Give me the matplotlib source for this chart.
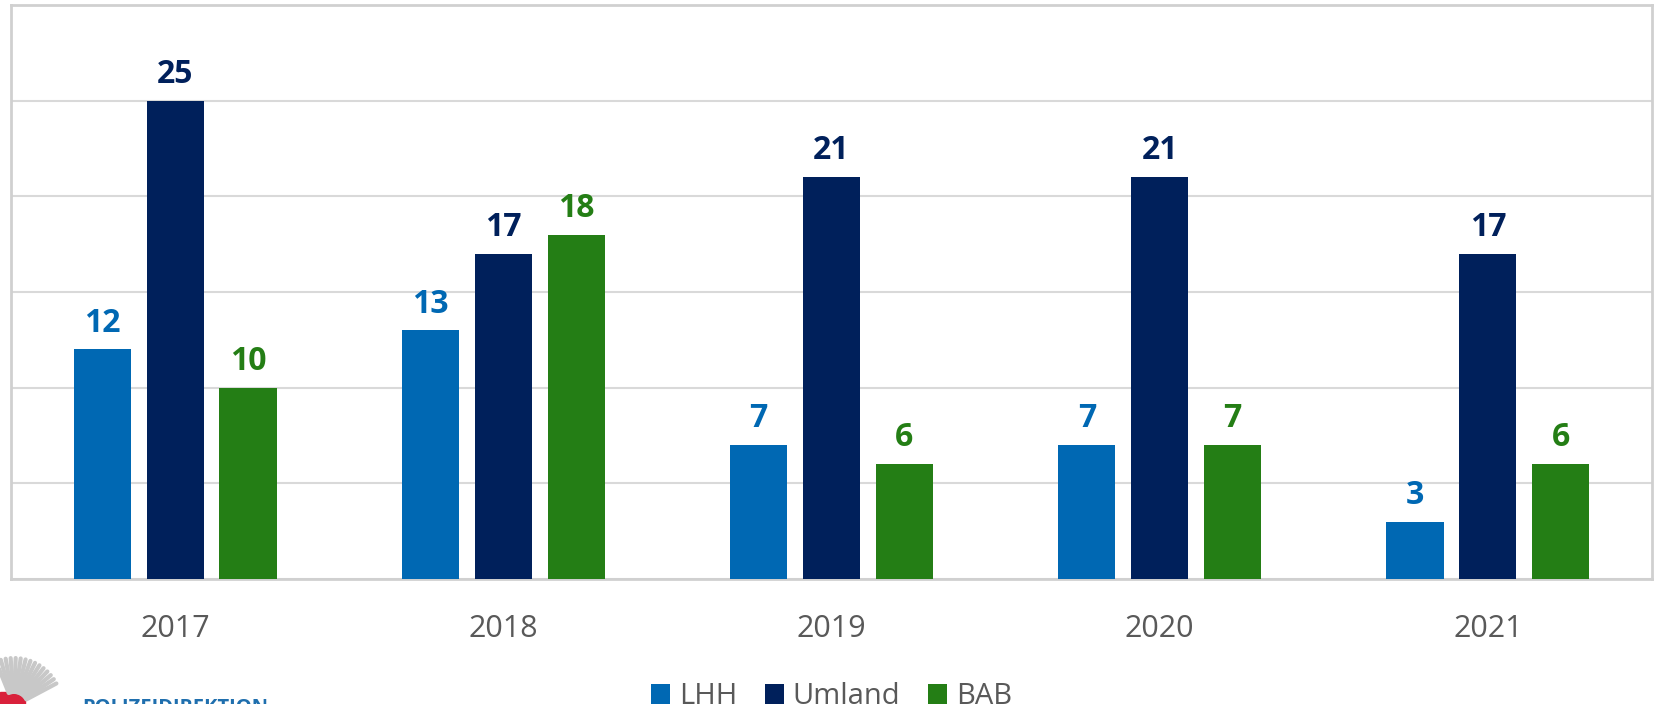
import numpy as np
import matplotlib
matplotlib.use('Agg')
import matplotlib.pyplot as plt
from matplotlib.patches import Rectangle

years = ['2017', '2018', '2019', '2020', '2021']
lhh = [12, 13, 7, 7, 3]
umland = [25, 17, 21, 21, 17]
bab = [10, 18, 6, 7, 6]

series_names = ['LHH', 'Umland', 'BAB']
colors = ['#0068b3', '#00205b', '#247e15']

W, H = 1654, 704

plt.rcParams['font.family'] = ['Open Sans', 'DejaVu Sans']

fig = plt.figure(figsize=(W / 100, H / 100), dpi=100)
ax = fig.add_axes([11 / W, 1 - 579 / H, 1641 / W, 574 / H])

x = np.arange(len(years))
width = 0.174
step = 0.222
for i, (vals, name, col) in enumerate(zip([lhh, umland, bab], series_names, colors)):
	pos = x + (i - 1) * step
	ax.bar(pos, vals, width=width, color=col, label=name, zorder=3)
	for px, v in zip(pos, vals):
		ax.annotate(str(v), (px, v), xytext=(0, 7), textcoords='offset points',
			ha='center', va='bottom', color=col, fontsize=23, fontweight='bold')

ax.set_xlim(-0.5, len(years) - 0.5)
ax.set_ylim(0, 30)
ax.set_yticks(np.arange(0, 30, 5))
ax.set_yticklabels([])
ax.tick_params(axis='y', length=0)
ax.tick_params(axis='x', length=0, pad=25, labelsize=22, labelcolor='#595959')
ax.set_xticks(x)
ax.set_xticklabels(years)
ax.grid(axis='y', color='#d9d9d9', linewidth=1.5, zorder=0)
for s in ax.spines.values():
	s.set_color('#d0d0d0')
	s.set_linewidth(2)

leg = ax.legend(loc='center', bbox_to_anchor=(0.5, -0.205), ncol=3, frameon=False,
	fontsize=21, handlelength=0.65, handleheight=0.7, handletextpad=0.3, columnspacing=0.95,
	labelcolor='#595959', borderpad=0)

# logo fragment bottom-left (pixel coords)
def fpt(px, py):
	return px / W, 1 - py / H

cx, cy = 14, 706
for ang in np.linspace(28, 112, 15):
	a = np.deg2rad(ang)
	r1 = 58 if int(ang) % 2 else 48
	x0, y0 = fpt(cx + 14 * np.cos(a), cy - 14 * np.sin(a))
	x1, y1 = fpt(cx + r1 * np.cos(a), cy - r1 * np.sin(a))
	fig.add_artist(plt.Line2D([x0, x1], [y0, y1], color='#c8c8c8', linewidth=3,
		solid_capstyle='round', transform=fig.transFigure))
rx, ry = fpt(0, 704)
fig.add_artist(Rectangle((rx, ry), 25 / W, 12 / H, color='#d9213b', transform=fig.transFigure))
tx, ty = fpt(82, 698)
fig.text(tx, ty, 'POLIZEIDIREKTION', color='#1f6fae', fontsize=14.5,
	fontweight='bold', va='top', ha='left')

fig.savefig('out.png', dpi=100)
